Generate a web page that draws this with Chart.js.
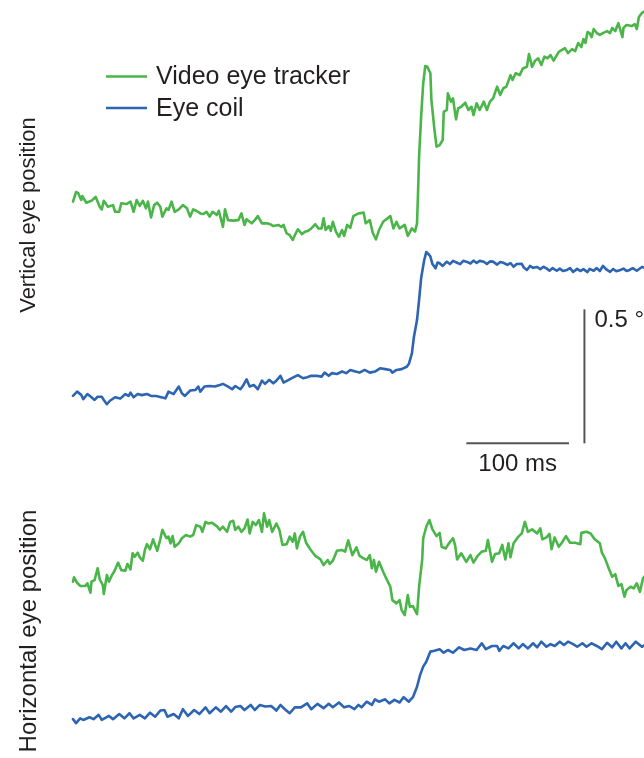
<!DOCTYPE html>
<html>
<head>
<meta charset="utf-8">
<title>Eye position</title>
<script src="https://cdn.jsdelivr.net/npm/chart.js@4.4.0/dist/chart.umd.min.js"></script>
<style>
  body { margin: 0; background: #fff; }
  #wrap { width: 644px; height: 758px; position: relative; }
</style>
</head>
<body>
<div id="wrap"><canvas id="mycanvas"></canvas></div>
<script>
// each trace: [time (ms), position (deg, relative to trace start)]
var vertVideo = [
  [0,-0.006],[3,0.030],[5,0.026],[8,0],[9,0.015],[13,-0.010],[18,-0.003],[22,0.012],[26,-0.025],[28,-0.035],
  [30,-0.003],[34,-0.025],[39,-0.019],[41,-0.044],[45,-0.044],[47,-0.012],[52,-0.015],[56,-0.006],[59,-0.044],[62,0],
  [65,-0.022],[68,-0.003],[71,-0.031],[73,-0.006],[76,-0.065],[79,-0.019],[82,-0.010],[85,-0.025],[87,-0.062],[91,-0.031],
  [93,-0.037],[96,-0.006],[99,-0.044],[103,-0.035],[107,-0.019],[111,-0.031],[114,-0.062],[117,-0.035],[120,-0.040],[124,-0.050],
  [127,-0.052],[130,-0.044],[133,-0.062],[136,-0.044],[140,-0.056],[142,-0.040],[146,-0.100],[148,-0.035],[151,-0.075],[156,-0.077],
  [161,-0.075],[164,-0.050],[167,-0.093],[169,-0.072],[174,-0.087],[177,-0.075],[180,-0.060],[184,-0.087],[189,-0.087],[192,-0.090],
  [195,-0.097],[200,-0.093],[203,-0.100],[205,-0.093],[208,-0.124],[211,-0.131],[214,-0.149],[216,-0.131],[219,-0.109],[223,-0.127],
  [226,-0.118],[229,-0.115],[232,-0.106],[236,-0.090],[239,-0.106],[242,-0.106],[244,-0.068],[246,-0.112],[249,-0.097],[251,-0.115],
  [253,-0.081],[256,-0.118],[259,-0.137],[262,-0.112],[264,-0.134],[267,-0.093],[270,-0.104],[273,-0.060],[278,-0.050],[283,-0.047],
  [285,-0.087],[289,-0.075],[292,-0.124],[295,-0.147],[298,-0.112],[302,-0.081],[309,-0.060],[312,-0.106],[315,-0.081],[318,-0.106],
  [323,-0.093],[326,-0.134],[330,-0.106],[333,-0.118],[335,-0.087],[336,0.031],[337,0.162],[339,0.311],[341,0.435],[343,0.500],
  [345,0.497],[348,0.473],[349,0.373],[352,0.261],[354,0.199],[357,0.205],[360,0.224],[361,0.329],[364,0.336],[365,0.398],
  [368,0.367],[370,0.379],[373,0.301],[375,0.342],[378,0.348],[382,0.363],[385,0.336],[388,0.348],[390,0.317],[393,0.361],
  [396,0.336],[400,0.367],[403,0.336],[406,0.367],[409,0.379],[413,0.423],[416,0.392],[419,0.417],[422,0.423],[426,0.466],
  [428,0.448],[431,0.473],[435,0.466],[438,0.491],[442,0.497],[444,0.545],[447,0.497],[450,0.520],[453,0.529],[456,0.504],
  [459,0.535],[462,0.529],[465,0.541],[468,0.520],[473,0.553],[479,0.567],[482,0.548],[486,0.563],[489,0.556],[492,0.586],
  [495,0.571],[497,0.601],[499,0.586],[501,0.627],[503,0.623],[505,0.608],[507,0.638],[510,0.623],[513,0.616],[516,0.623],
  [520,0.630],[523,0.623],[525,0.642],[528,0.630],[531,0.660],[535,0.608],[536,0.642],[539,0.653],[544,0.649],[547,0.656],
  [549,0.638],[551,0.683],[554,0.698],[557,0.705]
];

var vertCoil = [
  [0,0],[4,0.016],[8,0.004],[10,-0.012],[14,0.007],[18,-0.005],[21,-0.015],[24,-0.003],[28,-0.003],[30,-0.015],
  [33,-0.031],[36,-0.018],[41,-0.005],[46,-0.010],[51,0.007],[54,0],[56,0.012],[59,-0.005],[63,0.007],[67,0.003],
  [72,0.007],[76,0],[81,0],[86,-0.005],[90,-0.009],[93,0.016],[98,0.007],[103,0.035],[106,0.010],[109,0],
  [114,0.020],[119,0.022],[122,0.035],[124,0.016],[128,0.035],[133,0.037],[138,0.035],[143,0.041],[146,0.045],[151,0.035],
  [155,0.025],[158,0.037],[163,0.025],[166,0.041],[169,0.062],[172,0.035],[176,0.041],[180,0.025],[184,0.057],[187,0.045],
  [191,0.060],[195,0.047],[198,0.057],[202,0.075],[205,0.050],[210,0.060],[215,0.070],[219,0.078],[224,0.066],[228,0.070],
  [232,0.075],[237,0.075],[242,0.072],[245,0.087],[249,0.075],[252,0.085],[257,0.082],[262,0.091],[266,0.085],[270,0.097],
  [275,0.091],[279,0.087],[284,0.097],[289,0.087],[294,0.091],[299,0.103],[304,0.100],[309,0.097],[311,0.087],[315,0.097],
  [320,0.100],[325,0.109],[327,0.119],[330,0.159],[332,0.221],[335,0.284],[337,0.358],[339,0.440],[342,0.507],[344,0.537],
  [346,0.530],[348,0.520],[350,0.492],[353,0.476],[355,0.498],[357,0.495],[360,0.485],[364,0.501],[367,0.492],[370,0.504],
  [374,0.497],[377,0.492],[380,0.504],[383,0.501],[387,0.494],[390,0.505],[393,0.496],[396,0.504],[400,0.501],[403,0.492],
  [406,0.502],[409,0.501],[413,0.490],[416,0.500],[419,0.497],[423,0.489],[426,0.496],[429,0.482],[432,0.492],[437,0.493],
  [439,0.479],[442,0.470],[445,0.485],[448,0.478],[452,0.481],[455,0.473],[458,0.482],[461,0.476],[464,0.467],[467,0.477],
  [471,0.467],[474,0.475],[477,0.466],[481,0.470],[484,0.477],[487,0.463],[491,0.474],[494,0.466],[497,0.473],[501,0.462],
  [503,0.474],[507,0.467],[510,0.477],[513,0.466],[516,0.485],[520,0.470],[523,0.463],[526,0.474],[529,0.465],[533,0.470],
  [536,0.475],[539,0.466],[542,0.470],[545,0.477],[549,0.467],[554,0.481],[557,0.478]
];

var horzVideo = [
  [0,-0.006],[1,0.010],[4,-0.010],[7,-0.022],[12,-0.022],[14,-0.012],[17,-0.047],[18,-0.006],[21,0],[24,0.044],
  [26,0.003],[29,-0.019],[30,-0.052],[33,0.019],[35,-0.006],[38,0.019],[40,0.031],[44,0.065],[47,0.037],[51,0.035],
  [53,0.060],[56,0.040],[58,0.100],[60,0.087],[63,0.102],[65,0.085],[68,0.072],[70,0.112],[72,0.134],[75,0.115],
  [78,0.152],[82,0.109],[85,0.152],[87,0.187],[91,0.156],[93,0.162],[95,0.137],[97,0.164],[99,0.124],[103,0.137],
  [106,0.156],[110,0.168],[114,0.162],[117,0.168],[120,0.205],[124,0.199],[126,0.180],[129,0.217],[132,0.211],[135,0.214],
  [140,0.201],[143,0.187],[146,0.199],[150,0.180],[153,0.217],[156,0.221],[158,0.187],[161,0.199],[164,0.180],[167,0.193],
  [170,0.226],[172,0.174],[175,0.217],[178,0.205],[181,0.224],[184,0.180],[186,0.249],[189,0.199],[191,0.224],[194,0.180],
  [198,0.211],[201,0.187],[204,0.131],[208,0.134],[211,0.162],[214,0.143],[216,0.174],[218,0.118],[221,0.162],[224,0.180],
  [227,0.139],[231,0.115],[236,0.090],[241,0.077],[244,0.056],[248,0.075],[250,0.060],[253,0.072],[257,0.109],[262,0.112],
  [265,0.106],[268,0.148],[272,0.093],[276,0.122],[279,0.090],[283,0.081],[286,0.075],[289,0.093],[291,0.044],[293,0.075],
  [295,0.031],[298,0.068],[302,0.031],[305,0.006],[309,-0.025],[311,-0.075],[315,-0.087],[318,-0.075],[320,-0.112],[323,-0.131],
  [326,-0.056],[328,-0.100],[331,-0.097],[335,-0.127],[337,-0.025],[340,0.075],[341,0.156],[344,0.199],[347,0.224],[350,0.189],
  [354,0.164],[357,0.176],[359,0.124],[363,0.118],[366,0.137],[370,0.156],[372,0.131],[374,0.077],[378,0.100],[383,0.068],
  [387,0.093],[390,0.065],[394,0.090],[398,0.106],[402,0.109],[404,0.149],[408,0.068],[411,0.097],[415,0.100],[418,0.131],
  [421,0.077],[424,0.137],[426,0.085],[429,0.137],[433,0.159],[437,0.174],[440,0.217],[443,0.180],[447,0.189],[452,0.174],
  [455,0.193],[457,0.152],[461,0.159],[464,0.172],[466,0.115],[469,0.159],[473,0.124],[476,0.139],[480,0.164],[484,0.139],
  [489,0.139],[494,0.134],[495,0.176],[500,0.180],[504,0.174],[508,0.152],[513,0.137],[515,0.102],[518,0.081],[521,0.050],
  [525,0.012],[528,0.022],[531,-0.022],[534,-0.015],[537,-0.062],[539,-0.037],[543,-0.025],[546,-0.031],[549,-0.012],[552,-0.044],
  [555,0.006],[557,0.015]
];

var horzCoil = [
  [0,0.003],[3,-0.012],[7,0.006],[10,0],[16,0.010],[20,0.003],[25,0.019],[28,0],[35,0.015],[39,0.003],
  [45,0.022],[50,0.006],[55,0.025],[59,0.006],[65,0.019],[70,0.006],[75,0.027],[80,0.012],[85,0.035],[89,0.037],
  [92,0.012],[98,0.022],[103,0.006],[107,0.040],[112,0.015],[118,0.037],[123,0.022],[129,0.047],[133,0.025],[139,0.047],
  [144,0.031],[149,0.052],[154,0.031],[158,0.048],[163,0.052],[167,0.037],[173,0.056],[177,0.037],[182,0.056],[187,0.050],
  [193,0.052],[198,0.035],[202,0.056],[206,0.041],[211,0.025],[216,0.047],[222,0.047],[228,0.062],[232,0.040],[238,0.060],
  [244,0.044],[249,0.060],[253,0.047],[259,0.065],[264,0.047],[269,0.052],[274,0.040],[278,0.056],[281,0.047],[286,0.068],
  [291,0.056],[294,0.077],[298,0.068],[304,0.077],[308,0.062],[313,0.075],[318,0.065],[322,0.085],[327,0.068],[331,0.085],
  [335,0.124],[338,0.168],[341,0.199],[344,0.217],[348,0.255],[352,0.258],[357,0.264],[361,0.251],[365,0.261],[370,0.251],
  [376,0.271],[381,0.261],[387,0.267],[393,0.261],[398,0.286],[402,0.264],[408,0.276],[413,0.276],[415,0.258],[419,0.276],
  [424,0.267],[429,0.286],[434,0.267],[438,0.283],[443,0.267],[448,0.286],[452,0.271],[456,0.292],[461,0.273],[465,0.283],
  [469,0.276],[474,0.292],[478,0.280],[482,0.292],[487,0.283],[491,0.273],[496,0.286],[500,0.273],[505,0.286],[510,0.276],
  [515,0.264],[520,0.288],[525,0.271],[529,0.292],[534,0.267],[538,0.286],[542,0.267],[548,0.292],[554,0.273],[557,0.280]
];

var seriesNames = ['Video eye tracker', 'Eye coil'];
var panelTitles = ['Vertical eye position', 'Horizontal eye position'];
var scaleBarMs = 100;
var scaleBarDeg = 0.5;

var videoColor = 'rgb(74,181,72)';
var coilColor = 'rgb(45,101,178)';
var barColor = '#555555';
var textColor = '#231f20';
var fontFamily = '"Liberation Sans", Arial, Helvetica, sans-serif';

// vertical stacking of the four traces (deg) and scale bar corner
var offsets = { vertVideo: 2.082, vertCoil: 1.351, horzVideo: 0.664, horzCoil: 0.142 };
var barCorner = { x: 498, y: 1.174 };

function toPoints(trace, off) {
  return trace.map(function(p) { return { x: p[0], y: p[1] + off }; });
}

function traceSet(label, trace, off, color) {
  return {
    label: label,
    data: toPoints(trace, off),
    borderColor: color,
    backgroundColor: color,
    borderWidth: 2.6,
    borderJoinStyle: 'round',
    borderCapStyle: 'round',
    pointRadius: 0,
    tension: 0,
    fill: false
  };
}

var datasets = [
  traceSet(seriesNames[0], vertVideo, offsets.vertVideo, videoColor),
  traceSet(seriesNames[1], vertCoil, offsets.vertCoil, coilColor),
  traceSet(seriesNames[0], horzVideo, offsets.horzVideo, videoColor),
  traceSet(seriesNames[1], horzCoil, offsets.horzCoil, coilColor),
  {
    label: 'time bar',
    data: [{ x: barCorner.x - 15 - scaleBarMs, y: barCorner.y }, { x: barCorner.x - 15, y: barCorner.y }],
    borderColor: barColor, borderWidth: 2, pointRadius: 0
  },
  {
    label: 'deg bar',
    data: [{ x: barCorner.x, y: barCorner.y }, { x: barCorner.x, y: barCorner.y + scaleBarDeg }],
    borderColor: barColor, borderWidth: 2, pointRadius: 0
  }
];

var decor = {
  id: 'decor',
  afterDraw: function(chart) {
    var ctx = chart.ctx;
    var xs = chart.scales.x, ys = chart.scales.y;
    ctx.save();
    ctx.fillStyle = textColor;

    // legend
    ctx.font = '25px ' + fontFamily;
    var legendY = [76.5, 108];
    [videoColor, coilColor].forEach(function(c, i) {
      ctx.strokeStyle = c;
      ctx.lineWidth = 2.6;
      ctx.beginPath();
      ctx.moveTo(106, legendY[i]);
      ctx.lineTo(147, legendY[i]);
      ctx.stroke();
      ctx.textAlign = 'left';
      ctx.textBaseline = 'middle';
      ctx.fillText(seriesNames[i], 156, legendY[i] + 1);
    });

    // scale bar labels
    ctx.font = '24px ' + fontFamily;
    var tx = xs.getPixelForValue(barCorner.x - 15 - scaleBarMs / 2);
    var ty = ys.getPixelForValue(barCorner.y);
    ctx.textAlign = 'center';
    ctx.textBaseline = 'top';
    ctx.fillText(scaleBarMs + ' ms', tx, ty + 9);
    ctx.textAlign = 'left';
    ctx.textBaseline = 'alphabetic';
    ctx.fillText(scaleBarDeg + ' \u00b0', xs.getPixelForValue(barCorner.x) + 10,
                 ys.getPixelForValue(barCorner.y + scaleBarDeg) + 18);

    // panel titles
    var titleY = [215, 631];
    var titleSize = [22, 24];
    panelTitles.forEach(function(t, i) {
      ctx.save();
      ctx.translate(29, titleY[i]);
      ctx.rotate(-Math.PI / 2);
      ctx.font = titleSize[i] + 'px ' + fontFamily;
      ctx.textAlign = 'center';
      ctx.textBaseline = 'middle';
      ctx.fillText(t, 0, 0);
      ctx.restore();
    });
    ctx.restore();
  }
};

var ctx = document.getElementById('mycanvas');
var chart = new Chart(ctx, {
  type: 'line',
  data: { datasets: datasets },
  options: {
    responsive: true,
    maintainAspectRatio: false,
    animation: false,
    layout: { padding: 0, autoPadding: false },
    scales: {
      x: { type: 'linear', display: false, min: -71.08, max: 556.0 },
      y: { type: 'linear', display: false, min: 0, max: 758 / 268 }
    },
    plugins: {
      legend: { display: false },
      tooltip: { enabled: false }
    }
  },
  plugins: [decor]
});
</script>
</body>
</html>
